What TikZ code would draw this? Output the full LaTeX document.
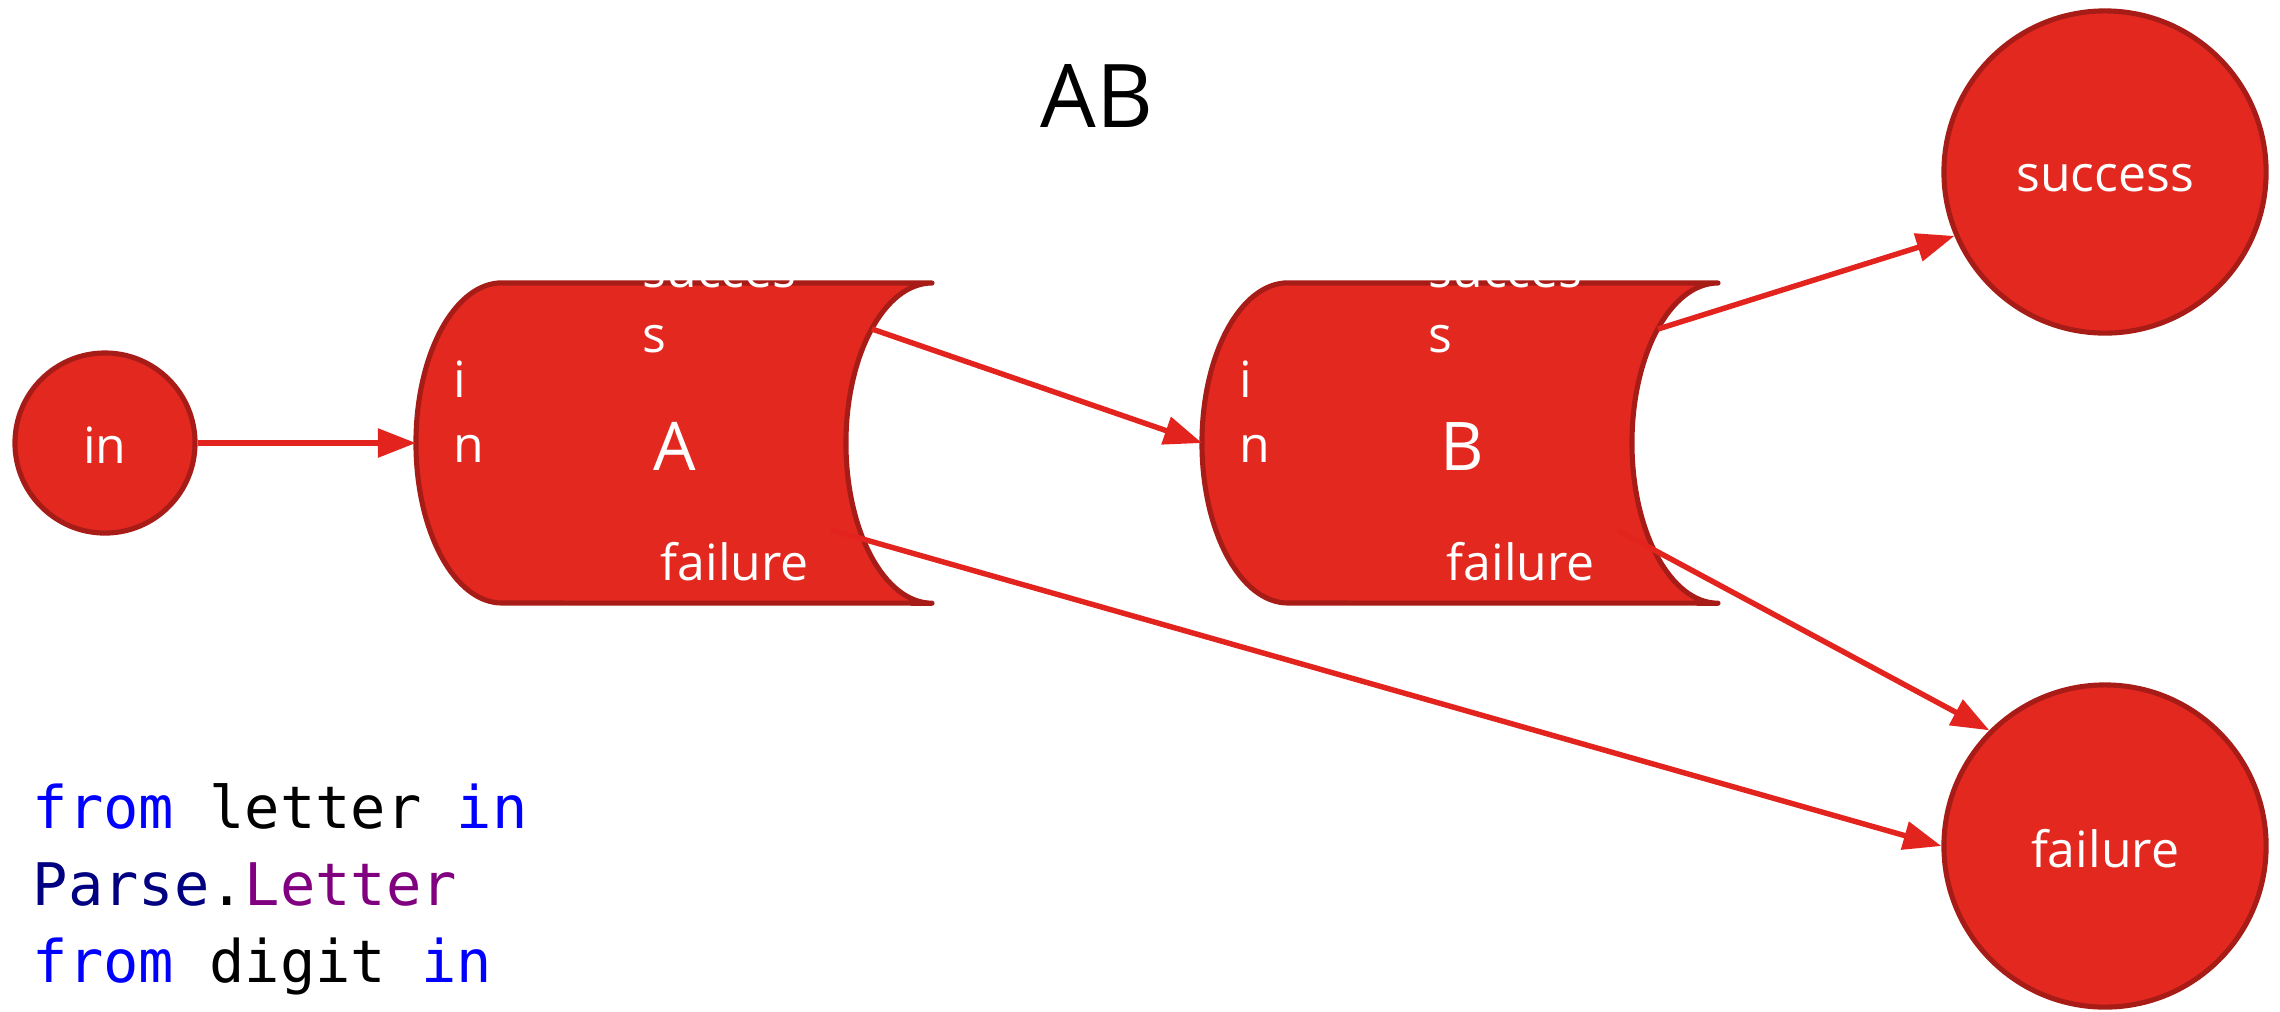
\documentclass[tikz,border=0pt]{standalone}
\usepackage{fontspec}
\setmainfont{Open Sans}
\newfontfamily\codefont{DejaVu Sans Mono}
\usetikzlibrary{arrows.meta}
\definecolor{nodefill}{HTML}{E32820}
\definecolor{nodeborder}{HTML}{A81C18}
\definecolor{edgecol}{HTML}{E3241E}
\definecolor{kwblue}{HTML}{0000FF}
\definecolor{typenavy}{HTML}{000080}
\definecolor{mempurple}{HTML}{800080}
\begin{document}
\begin{tikzpicture}[x=0.01cm,y=0.01cm,
  statenode/.style={circle, fill=nodefill, draw=nodeborder, line width=1.45pt, inner sep=0, text=white, font=\fontsize{14.2}{14.2}\selectfont},
  partshape/.style={fill=nodefill, draw=nodeborder, line width=1.45pt, line join=round, line cap=round},
  lbl/.style={text=white, inner sep=0, anchor=base west, font=\fontsize{14.2}{14.2}\selectfont},
  bigl/.style={text=white, inner sep=0, anchor=base, font=\fontsize{19.1}{19.1}\selectfont},
  conn/.style={draw=edgecol, line width=1.55pt, -{Triangle[length=0.38cm,width=0.28cm]}},
  code/.style={inner sep=0, anchor=base west, font=\codefont\fontsize{16.7}{16.7}\selectfont}
]
\path[use as bounding box, fill=white] (0,0) rectangle (2280,-1011);

% title
\node[anchor=base, inner sep=0, font=\fontsize{25}{25}\selectfont] (title) at (1097,-127) {AB};

% state circles
\node[statenode, minimum size=1.8cm] (in) at (105,-443) {};
\node[text=white, inner sep=0, anchor=base, font=\fontsize{14.2}{14.2}\selectfont] (inlbl) at (105,-463) {in};
\node[statenode, minimum size=3.22cm] (success) at (2105,-172) {};
\node[text=white, inner sep=0, anchor=base, font=\fontsize{14.2}{14.2}\selectfont] (successlbl) at (2105,-191) {success};
\node[statenode, minimum size=3.22cm] (failure) at (2105,-846) {};
\node[text=white, inner sep=0, anchor=base, font=\fontsize{14.2}{14.2}\selectfont] (failurelbl) at (2105,-867) {failure};

% parser A
\path[partshape] (502,-283) -- (932,-283)
  arc[start angle=90, end angle=270, x radius=0.86cm, y radius=1.6cm]
  -- (502,-603)
  arc[start angle=270, end angle=90, x radius=0.86cm, y radius=1.6cm] -- cycle;
\coordinate (Ain) at (416,-443);
\coordinate (Asucc) at (872,-329);
\coordinate (Afail) at (831,-530);
\node[lbl] (Ai) at (453,-397) {i};
\node[lbl] (An) at (453,-462) {n};
\node[lbl] (As1) at (642,-287) {succes};
\node[lbl] (As2) at (642,-352) {s};
\node[bigl] (Aname) at (675,-470) {A};
\node[lbl] (Af) at (660,-580) {failure};

% parser B
\path[partshape] (1288,-283) -- (1718,-283)
  arc[start angle=90, end angle=270, x radius=0.86cm, y radius=1.6cm]
  -- (1288,-603)
  arc[start angle=270, end angle=90, x radius=0.86cm, y radius=1.6cm] -- cycle;
\coordinate (Bin) at (1202,-443);
\coordinate (Bsucc) at (1658,-329);
\coordinate (Bfail) at (1617,-530);
\node[lbl] (Bi) at (1239,-397) {i};
\node[lbl] (Bn) at (1239,-462) {n};
\node[lbl] (Bs1) at (1428,-287) {succes};
\node[lbl] (Bs2) at (1428,-352) {s};
\node[bigl] (Bname) at (1462,-470) {B};
\node[lbl] (Bf) at (1446,-580) {failure};

% connectors
\draw[conn] (in) -- (Ain);
\draw[conn] (Asucc) -- (Bin);
\draw[conn] (Afail) -- (failure.west);
\draw[conn] (Bsucc) -- (success.203);
\draw[conn] (Bfail) -- (failure.135);

% code
\node[code] (code1) at (32,-828) {\textcolor{kwblue}{from} letter \textcolor{kwblue}{in}};
\node[code] (code2) at (32,-905) {\textcolor{typenavy}{Parse}.\textcolor{mempurple}{Letter}};
\node[code] (code3) at (32,-982) {\textcolor{kwblue}{from} digit \textcolor{kwblue}{in}};
\end{tikzpicture}
\end{document}
